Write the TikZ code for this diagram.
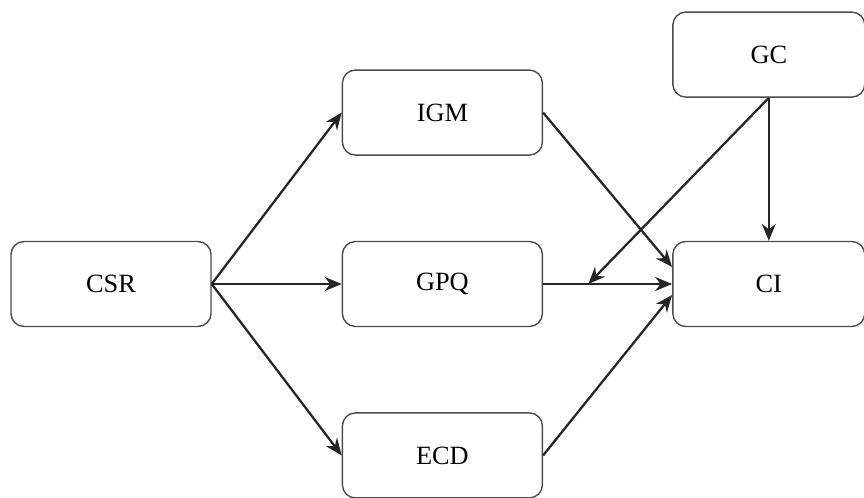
\documentclass[tikz,border=0pt]{standalone}
\usepackage{fontspec}
\setmainfont{Liberation Serif}
\usetikzlibrary{arrows.meta}
\usetikzlibrary{shapes.misc, positioning}

\begin{document}
\begin{tikzpicture}[node distance=1.7cm and 2.6cm, line width=1.3pt,
	box/.style={draw=black!70, line width=0.8pt, rounded corners=0.26cm, minimum width=4.0cm, minimum height=1.7cm, font=\fontsize{15}{18}\selectfont},
	arr/.style={-{Stealth[length=0.34cm, width=0.28cm]}, draw=black!85}]
			\useasboundingbox (0,0) rectangle (17.28,-9.96);
			\node[box] (csr) at (2.22,-5.68) {CSR};
			\node[box] (gpq) [right=of csr] {GPQ};
			\node[box] (igm) [above=of gpq] {IGM};
			\node[box] (ecd) [below=of gpq] {ECD};
			\node[box, minimum width=3.84cm] (ci) [right=2.58cm of gpq] {CI};
			\node[box, minimum width=3.84cm] (gc) [above=2.86cm of ci] {GC};
			
			\draw[arr] (csr.east) -- (igm.west);
			\draw[arr] (csr.east) -- (gpq.west);
			\draw[arr] (csr.east) -- (ecd.west);
			
			\draw[arr] (igm.east) -- ([yshift=0.34cm]ci.west);
			\draw[arr] (gpq.east) -- coordinate[pos=0.35] (mod) (ci.west);
			\draw[arr] (ecd.east) -- ([yshift=-0.22cm]ci.west);
			
			\draw[arr] (gc.south) -- (ci.north);
			\draw[arr] (gc.south) -- (mod);
\end{tikzpicture}
\end{document}
